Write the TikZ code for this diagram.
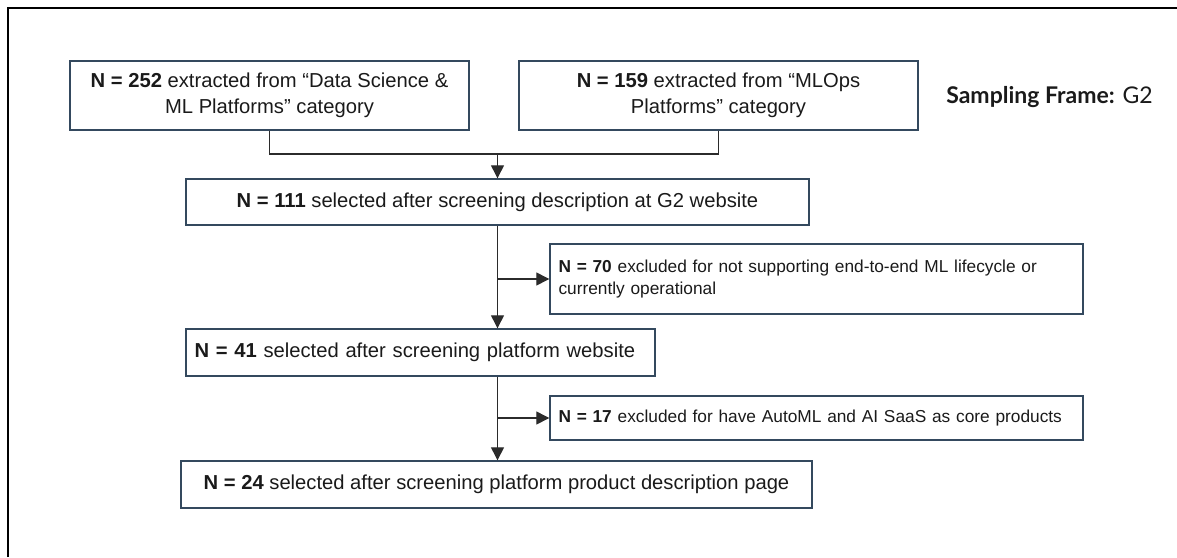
\documentclass[tikz,border=0pt]{standalone}
\usepackage{fontspec}
\setmainfont{Liberation Sans}
\newfontfamily\labelfont{Lato}
\usetikzlibrary{arrows.meta}
\definecolor{boxline}{HTML}{34495E}
\definecolor{linkline}{HTML}{2B2B2B}
\definecolor{ink}{HTML}{1A1A1A}
\newcommand{\boxfont}{\fontsize{20.2}{26}\selectfont\hyphenpenalty=10000\relax}
\newcommand{\notefont}{\fontsize{17.3}{22}\selectfont\hyphenpenalty=10000\relax}
\tikzset{
  stepbox/.style={draw=boxline, line width=1.4pt, rectangle, inner sep=0pt,
    text=ink, font=\boxfont},
  notebox/.style={stepbox, font=\notefont, inner xsep=8.5pt, align=left},
  link/.style={draw=linkline, line width=1.3pt},
  flow/.style={link, -{Triangle[length=13pt,width=13pt]}},
}
\begin{document}
\begin{tikzpicture}[x=1pt,y=-1pt]
\useasboundingbox (0,0) rectangle (1177,557);
% page frame, open to the right and bottom
\draw[line width=2pt, black] (8,557) -- (8,8) -- (1177,8);

% source categories
\node[stepbox, minimum width=399pt, minimum height=69pt, align=center]
  (b1) at (269.5,95.5) {\textbf{N = 252} extracted from “Data Science \&\\ML Platforms” category};
\node[stepbox, minimum width=399pt, minimum height=69pt, align=center]
  (b2) at (718.5,95.5) {\textbf{N = 159} extracted from “MLOps\\Platforms” category};
\node[text=ink, font=\labelfont\fontsize{23}{27}\selectfont]
  (frame) at (1049.5,97) {\textbf{Sampling Frame:} G2};

% screening stages
\node[stepbox, minimum width=623pt, minimum height=46pt]
  (b3) at (497.5,202) {\textbf{N = 111} selected after screening description at G2 website};
\node[notebox, minimum width=533pt, minimum height=70pt, text width=516pt]
  (b70) at (816.5,279) {\textbf{N = 70} excluded for not supporting end-to-end ML lifecycle or\\currently operational};
\node[stepbox, minimum width=469pt, minimum height=47pt, inner xsep=8.5pt, text width=452pt, align=left]
  (b41) at (420.5,352.5) {\textbf{N = 41} selected after screening platform website};
\node[notebox, minimum width=533pt, minimum height=44pt, text width=516pt]
  (b17) at (816.5,418) {\textbf{N = 17} excluded for have AutoML and AI SaaS as core products};
\node[stepbox, minimum width=631pt, minimum height=47pt]
  (b24) at (496.5,484.5) {\textbf{N = 24} selected after screening platform product description page};

% merge of the two sources
\coordinate (join) at (497.5,154);
\draw[link] (b1.south) |- (join) -| (b2.south);
\draw[flow] (join) -- (b3.north);

% main path with exclusion branches
\draw[flow] (b3.south) -- (b3.south |- b41.north);
\draw[flow] (b3.south |- b70.west) -- (b70.west);
\draw[flow] (b3.south |- b41.south) -- (b3.south |- b24.north);
\draw[flow] (b3.south |- b17.west) -- (b17.west);
\end{tikzpicture}
\end{document}
